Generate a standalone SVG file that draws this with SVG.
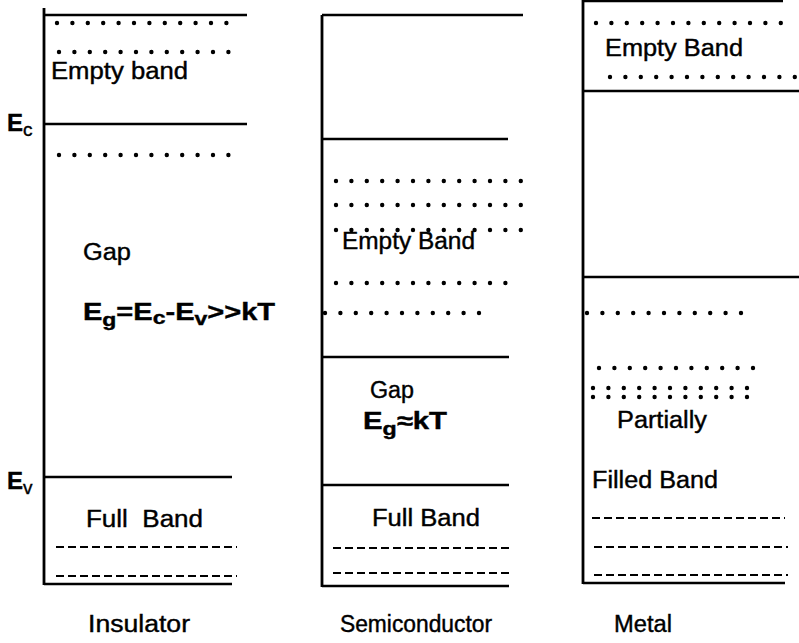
<svg xmlns="http://www.w3.org/2000/svg" width="799" height="643" viewBox="0 0 799 643">
<style>
.ln{stroke:#000;stroke-width:2.4;fill:none}
.ax{stroke:#000;stroke-width:2.8;fill:none}
.dt{stroke:#000;stroke-width:4.4;stroke-linecap:round;stroke-dasharray:0 15.4;fill:none}
.ds{stroke:#000;stroke-width:2.2;stroke-dasharray:8 4;fill:none}
text{font-family:"Liberation Sans",Arial,sans-serif;fill:#000;stroke:#000;stroke-width:0.4}
.t{font-size:23px}
.b{font-size:24px;font-weight:bold}
.s{font-size:19px}
</style>
<rect width="799" height="643" fill="#fff"/>
<g id="insulator">
<line class="ax" x1="44" y1="8" x2="44" y2="585"/>
<line class="ln" x1="44" y1="15" x2="247" y2="15"/>
<line class="ln" x1="44" y1="124" x2="247" y2="124"/>
<line class="ln" x1="44" y1="477" x2="232" y2="477"/>
<line class="ln" x1="44" y1="584" x2="232" y2="584"/>
<line class="dt" x1="57" y1="23" x2="227" y2="23"/>
<line class="dt" x1="59" y1="52" x2="229" y2="52"/>
<line class="dt" x1="59" y1="155" x2="229" y2="155"/>
<line class="ds" x1="56" y1="547" x2="237" y2="547"/>
<line class="ds" x1="56" y1="576" x2="237" y2="576"/>
<text class="t" x="51" y="79" textLength="137" lengthAdjust="spacingAndGlyphs">Empty band</text>
<text class="b" x="7" y="131">E<tspan class="s" font-weight="normal" dy="5">c</tspan></text>
<text class="b" x="7" y="489">E<tspan class="s" font-weight="normal" dy="5">v</tspan></text>
<text class="t" x="83" y="260" textLength="48" lengthAdjust="spacingAndGlyphs">Gap</text>
<text class="b" x="83" y="320" textLength="192" lengthAdjust="spacingAndGlyphs">E<tspan class="s" dy="6">g</tspan><tspan dy="-6">=E</tspan><tspan class="s" dy="4">c</tspan><tspan dy="-4">-E</tspan><tspan class="s" dy="5">v</tspan><tspan dy="-5">&gt;&gt;kT</tspan></text>
<text class="t" x="86" y="527" textLength="117" lengthAdjust="spacingAndGlyphs" xml:space="preserve">Full  Band</text>
<text class="t" x="88" y="632" textLength="102" lengthAdjust="spacingAndGlyphs">Insulator</text>
</g>
<g id="semiconductor">
<line class="ax" x1="322" y1="15" x2="322" y2="587"/>
<line class="ln" x1="322" y1="15" x2="523" y2="15"/>
<line class="ln" x1="322" y1="139" x2="508" y2="139"/>
<line class="ln" x1="322" y1="357" x2="509" y2="357"/>
<line class="ln" x1="322" y1="485" x2="509" y2="485"/>
<line class="ln" x1="322" y1="586" x2="509" y2="586"/>
<line class="dt" x1="336" y1="181" x2="521" y2="181"/>
<line class="dt" x1="336" y1="205" x2="521" y2="205"/>
<line class="dt" x1="336" y1="230" x2="521" y2="230"/>
<line class="dt" x1="336" y1="283" x2="506" y2="283"/>
<line class="dt" x1="325" y1="313" x2="479" y2="313"/>
<line class="ds" x1="333" y1="548" x2="510" y2="548"/>
<line class="ds" x1="333" y1="573" x2="510" y2="573"/>
<text class="t" x="342" y="249" textLength="133" lengthAdjust="spacingAndGlyphs">Empty Band</text>
<text class="t" x="370" y="398" textLength="44" lengthAdjust="spacingAndGlyphs">Gap</text>
<text class="b" x="363" y="429" textLength="84" lengthAdjust="spacingAndGlyphs">E<tspan class="s" dy="6">g</tspan><tspan dy="-6">≈kT</tspan></text>
<text class="t" x="372" y="526" textLength="108" lengthAdjust="spacingAndGlyphs">Full Band</text>
<text class="t" x="340" y="632" textLength="152" lengthAdjust="spacingAndGlyphs">Semiconductor</text>
</g>
<g id="metal">
<line class="ax" x1="583" y1="0" x2="583" y2="584"/>
<line class="ln" x1="583" y1="1" x2="783" y2="1"/>
<line class="ln" x1="583" y1="91" x2="799" y2="91"/>
<line class="ln" x1="583" y1="277" x2="799" y2="277"/>
<line class="ln" x1="583" y1="583" x2="785" y2="583"/>
<line class="dt" x1="596" y1="23" x2="781" y2="23"/>
<line class="dt" x1="610" y1="77" x2="795" y2="77"/>
<line class="dt" x1="587" y1="313" x2="741" y2="313"/>
<line class="dt" x1="599" y1="368" x2="753" y2="368"/>
<line class="dt" x1="593" y1="388" x2="747" y2="388"/>
<line class="dt" x1="593" y1="397" x2="747" y2="397"/>
<line class="ds" x1="592" y1="518" x2="785" y2="518"/>
<line class="ds" x1="594" y1="547" x2="788" y2="547"/>
<line class="ds" x1="594" y1="575" x2="788" y2="575"/>
<text class="t" x="605" y="56" textLength="138" lengthAdjust="spacingAndGlyphs">Empty Band</text>
<text class="t" x="617" y="428" textLength="90" lengthAdjust="spacingAndGlyphs">Partially</text>
<text class="t" x="592" y="488" textLength="126" lengthAdjust="spacingAndGlyphs">Filled Band</text>
<text class="t" x="614" y="632" textLength="58" lengthAdjust="spacingAndGlyphs">Metal</text>
</g>
</svg>
